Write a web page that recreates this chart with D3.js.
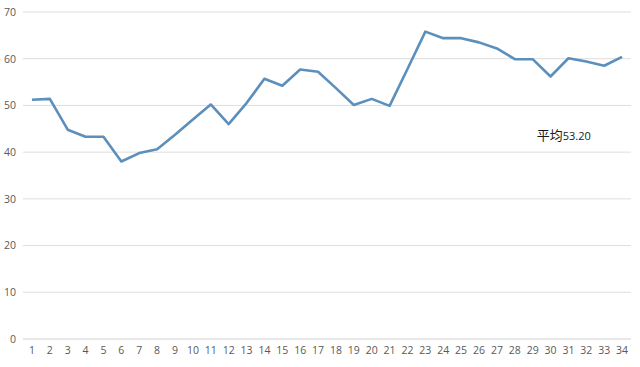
<!DOCTYPE html>
<html>
<head>
<meta charset="utf-8">
<script src="https://cdn.jsdelivr.net/npm/d3@7"></script>
<style>
  body { margin: 0; background: #fff; }
  svg { display: block; }
</style>
</head>
<body>
<script>
const categories = d3.range(1, 35).map(String);
const values = [
  51.2, 51.4, 44.8, 43.3, 43.3, 38.0, 39.8, 40.6, 43.7, 47.0,
  50.2, 46.0, 50.5, 55.7, 54.2, 57.7, 57.2, 53.7, 50.1, 51.4,
  49.9, 57.8, 65.8, 64.4, 64.4, 63.5, 62.2, 59.9, 59.9, 56.2,
  60.1, 59.4, 58.5, 60.4
];
const yTicks = [0, 10, 20, 30, 40, 50, 60, 70];
const note = { prefix: "平均", value: "53.20" };

const width = 640;
const height = 367;
const marginTop = 12;
const marginRight = 9;
const marginBottom = 28;
const marginLeft = 23;

const svg = d3.select("body")
  .append("svg")
  .attr("width", width)
  .attr("height", height);

svg.append("rect")
  .attr("width", "100%")
  .attr("height", "100%")
  .attr("fill", "white");

const g = svg.append("g")
  .attr("transform", "translate(" + marginLeft + "," + marginTop + ")");

const w = width - marginLeft - marginRight;
const h = height - marginTop - marginBottom;

const x = d3.scaleBand()
  .domain(categories)
  .range([0, w]);

const y = d3.scaleLinear()
  .domain([0, 70])
  .range([h, 0]);

// gridlines
g.append("g")
  .selectAll("line")
  .data(yTicks)
  .join("line")
  .attr("x1", 0)
  .attr("x2", w)
  .attr("y1", d => y(d))
  .attr("y2", d => y(d))
  .attr("stroke", d => d === 0 ? "#d0d0d0" : "#dedede")
  .attr("stroke-width", 1);

// y axis labels
const yAxis = g.append("g")
  .call(d3.axisLeft(y).tickValues(yTicks).tickSize(0).tickPadding(7));
yAxis.select(".domain").remove();
yAxis.selectAll("text")
  .attr("fill", "#595959")
  .style("font-family", "Open Sans, Liberation Sans, sans-serif")
  .style("font-size", "10.5px");

// x axis labels
const xAxis = g.append("g")
  .attr("transform", "translate(0," + h + ")")
  .call(d3.axisBottom(x).tickSize(0).tickPadding(8));
xAxis.select(".domain").remove();
xAxis.selectAll("text")
  .attr("fill", "#595959")
  .style("font-family", "Open Sans, Liberation Sans, sans-serif")
  .style("font-size", "10.5px");

// line
const line = d3.line()
  .x((d, i) => x(categories[i]) + x.bandwidth() / 2)
  .y(d => y(d));

g.append("path")
  .datum(values)
  .attr("fill", "none")
  .attr("stroke", "#5b8fbc")
  .attr("stroke-width", 2.6)
  .attr("stroke-linejoin", "round")
  .attr("d", line);

// average note
const label = g.append("text")
  .attr("x", x("29") + 13)
  .attr("y", y(42.5))
  .attr("fill", "#1a1a1a");
label.append("tspan")
  .style("font-family", "Noto Sans CJK SC, sans-serif")
  .style("font-size", "13px")
  .text(note.prefix);
label.append("tspan")
  .style("font-family", "Open Sans, Liberation Sans, sans-serif")
  .style("font-size", "11px")
  .text(note.value);
</script>
</body>
</html>
